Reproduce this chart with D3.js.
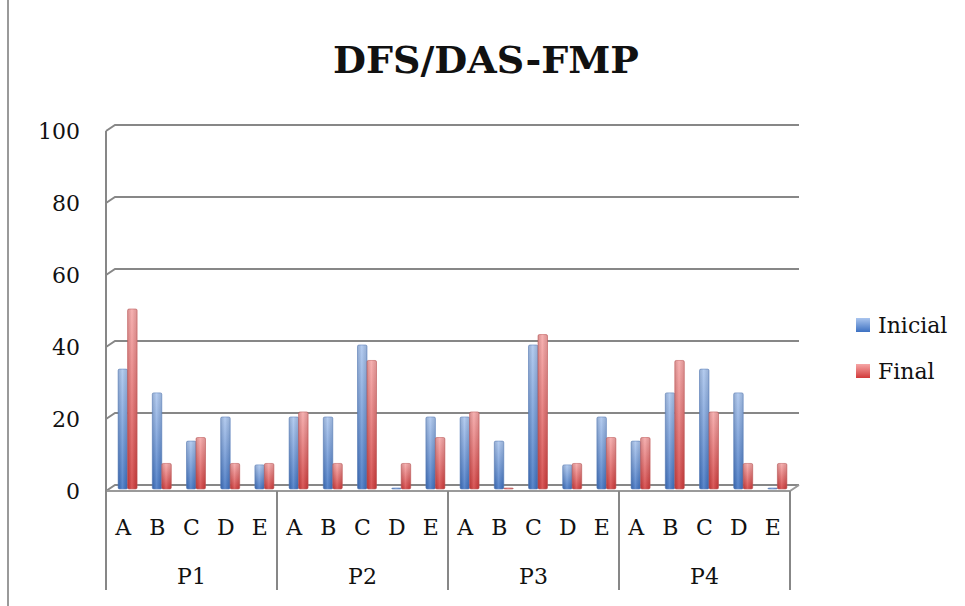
<!DOCTYPE html>
<html lang="en">
<head>
    <meta charset="UTF-8">
    <title>DFS/DAS-FMP</title>
    <script src="https://d3js.org/d3.v7.min.js"></script>
    <style>
        body { margin: 0; background: #fff; }
        text { font-family: "DejaVu Serif", serif; fill: #111; }
    </style>
</head>
<body>
    <svg></svg>

    <script>
        const groups = ['P1', 'P2', 'P3', 'P4'];
        const letters = ['A', 'B', 'C', 'D', 'E'];
        const seriesNames = ['Inicial', 'Final'];
        const inicial = [33.3, 26.7, 13.3, 20, 6.7,   20, 20, 40, 0, 20,   20, 13.3, 40, 6.7, 20,   13.3, 26.7, 33.3, 26.7, 0];
        const final = [50, 7.1, 14.3, 7.1, 7.1,   21.4, 7.1, 35.7, 7.1, 14.3,   21.4, 0, 42.9, 7.1, 14.3,   14.3, 35.7, 21.4, 7.1, 7.1];
        const yTicks = [0, 20, 40, 60, 80, 100];

        const width = 965, height = 606;
        const depth = {x: 9, y: -6};   // 3d offset of the back wall

        const svg = d3.select('svg')
            .attr('width', width)
            .attr('height', height);

        const cats = [];
        groups.forEach(g => letters.forEach(l => cats.push(g + l)));
        const rows = cats.map((c, i) => ({cat: c, group: c.slice(0, 2), letter: c.slice(2), Inicial: inicial[i], Final: final[i]}));

        const x = d3.scaleBand().domain(cats).range([106, 790]);
        const xg = d3.scaleBand().domain(groups).range([106, 790]);
        const xs = d3.scaleBand().domain(seriesNames).range([0, 19]);
        const y = d3.scaleLinear().domain([0, 100]).range([491, 131]);

        // gradients
        const defs = svg.append('defs');
        const grads = {Inicial: ['#aac5ee', '#3d71c2'], Final: ['#f6a6a6', '#d23a3a']};
        Object.entries(grads).forEach(([k, c]) => {
            const g = defs.append('linearGradient').attr('id', 'g' + k)
                .attr('x1', 0).attr('y1', 0).attr('x2', 0).attr('y2', 1);
            g.append('stop').attr('offset', '0%').attr('stop-color', c[0]);
            g.append('stop').attr('offset', '100%').attr('stop-color', c[1]);
            const h = defs.append('linearGradient').attr('id', 'h' + k)
                .attr('x1', 0).attr('y1', 0).attr('x2', 1).attr('y2', 0);
            h.append('stop').attr('offset', '0%').attr('stop-color', '#000').attr('stop-opacity', 0.12);
            h.append('stop').attr('offset', '45%').attr('stop-color', '#fff').attr('stop-opacity', 0.15);
            h.append('stop').attr('offset', '100%').attr('stop-color', '#000').attr('stop-opacity', 0.1);
        });

        // left border of the chart area
        svg.append('line').attr('x1', 8).attr('x2', 8).attr('y1', 0).attr('y2', height)
            .attr('stroke', '#9a9a9a').attr('stroke-width', 2);

        // title
        svg.append('text').attr('x', 486).attr('y', 73)
            .attr('text-anchor', 'middle')
            .style('font-size', '38px').style('font-weight', 'bold')
            .text('DFS/DAS-FMP');

        const grid = svg.append('g').attr('stroke', '#878787').attr('stroke-width', 2).attr('fill', 'none');

        // back wall gridlines with the small slanted joins
        yTicks.forEach(t => {
            grid.append('path')
                .attr('d', `M${x.range()[0]},${y(t)} L${x.range()[0] + depth.x},${y(t) + depth.y} L${x.range()[1] + depth.x},${y(t) + depth.y}`);
        });

        // floor
        grid.append('path')
            .attr('d', `M${x.range()[0]},${y(0)} L${x.range()[1]},${y(0)} L${x.range()[1] + depth.x},${y(0) + depth.y}`)
            .attr('stroke', '#9a9a9a');

        // left axis line
        grid.append('line').attr('x1', 106).attr('x2', 106).attr('y1', y(100)).attr('y2', 590);

        // group separators under the floor
        groups.concat(['end']).forEach((g, i) => {
            const gx = i < groups.length ? xg(g) : xg.range()[1];
            grid.append('line').attr('x1', gx).attr('x2', gx).attr('y1', y(0)).attr('y2', 590);
        });

        // y labels
        svg.append('g').selectAll('text').data(yTicks).join('text')
            .attr('x', 80).attr('y', d => y(d))
            .attr('text-anchor', 'end').attr('dominant-baseline', 'central')
            .style('font-size', '22px')
            .text(d => d);

        // bars (placed half way into the depth)
        const bx = depth.x / 2 + (x.bandwidth() - 19) / 2;
        const by = depth.y / 3;
        seriesNames.forEach(s => {
            const g = svg.append('g');
            const bw = xs.bandwidth();
            const bar = g.selectAll('g').data(rows).join('g')
                .attr('transform', d => `translate(${x(d.cat) + bx + xs(s)},${by})`);
            bar.append('rect')
                .attr('x', 0).attr('width', bw)
                .attr('y', d => Math.min(y(d[s]), y(0) - 1))
                .attr('height', d => Math.max(y(0) - y(d[s]), 1))
                .attr('rx', 1.5)
                .attr('fill', `url(#g${s})`)
                .attr('stroke', s === 'Inicial' ? '#5b82c0' : '#c45a5a').attr('stroke-width', 0.6);
            bar.append('rect')
                .attr('x', 0).attr('width', bw)
                .attr('y', d => Math.min(y(d[s]), y(0) - 1))
                .attr('height', d => Math.max(y(0) - y(d[s]), 1))
                .attr('fill', `url(#h${s})`);
        });

        // category labels
        svg.append('g').selectAll('text').data(rows).join('text')
            .attr('x', d => x(d.cat) + x.bandwidth() / 2).attr('y', 527)
            .attr('text-anchor', 'middle').attr('dominant-baseline', 'central')
            .style('font-size', '22px')
            .text(d => d.letter);

        svg.append('g').selectAll('text').data(groups).join('text')
            .attr('x', d => xg(d) + xg.bandwidth() / 2).attr('y', 576)
            .attr('text-anchor', 'middle').attr('dominant-baseline', 'central')
            .style('font-size', '22px')
            .text(d => d);

        // legend
        const legend = svg.append('g').attr('transform', 'translate(856,318)');
        seriesNames.forEach((s, i) => {
            legend.append('rect').attr('x', 0).attr('y', i * 46).attr('width', 14).attr('height', 14)
                .attr('fill', `url(#g${s})`);
            legend.append('text').attr('x', 22).attr('y', i * 46 + 7)
                .attr('dominant-baseline', 'central')
                .style('font-size', '22px')
                .text(s);
        });
    </script>
</body>
</html>
